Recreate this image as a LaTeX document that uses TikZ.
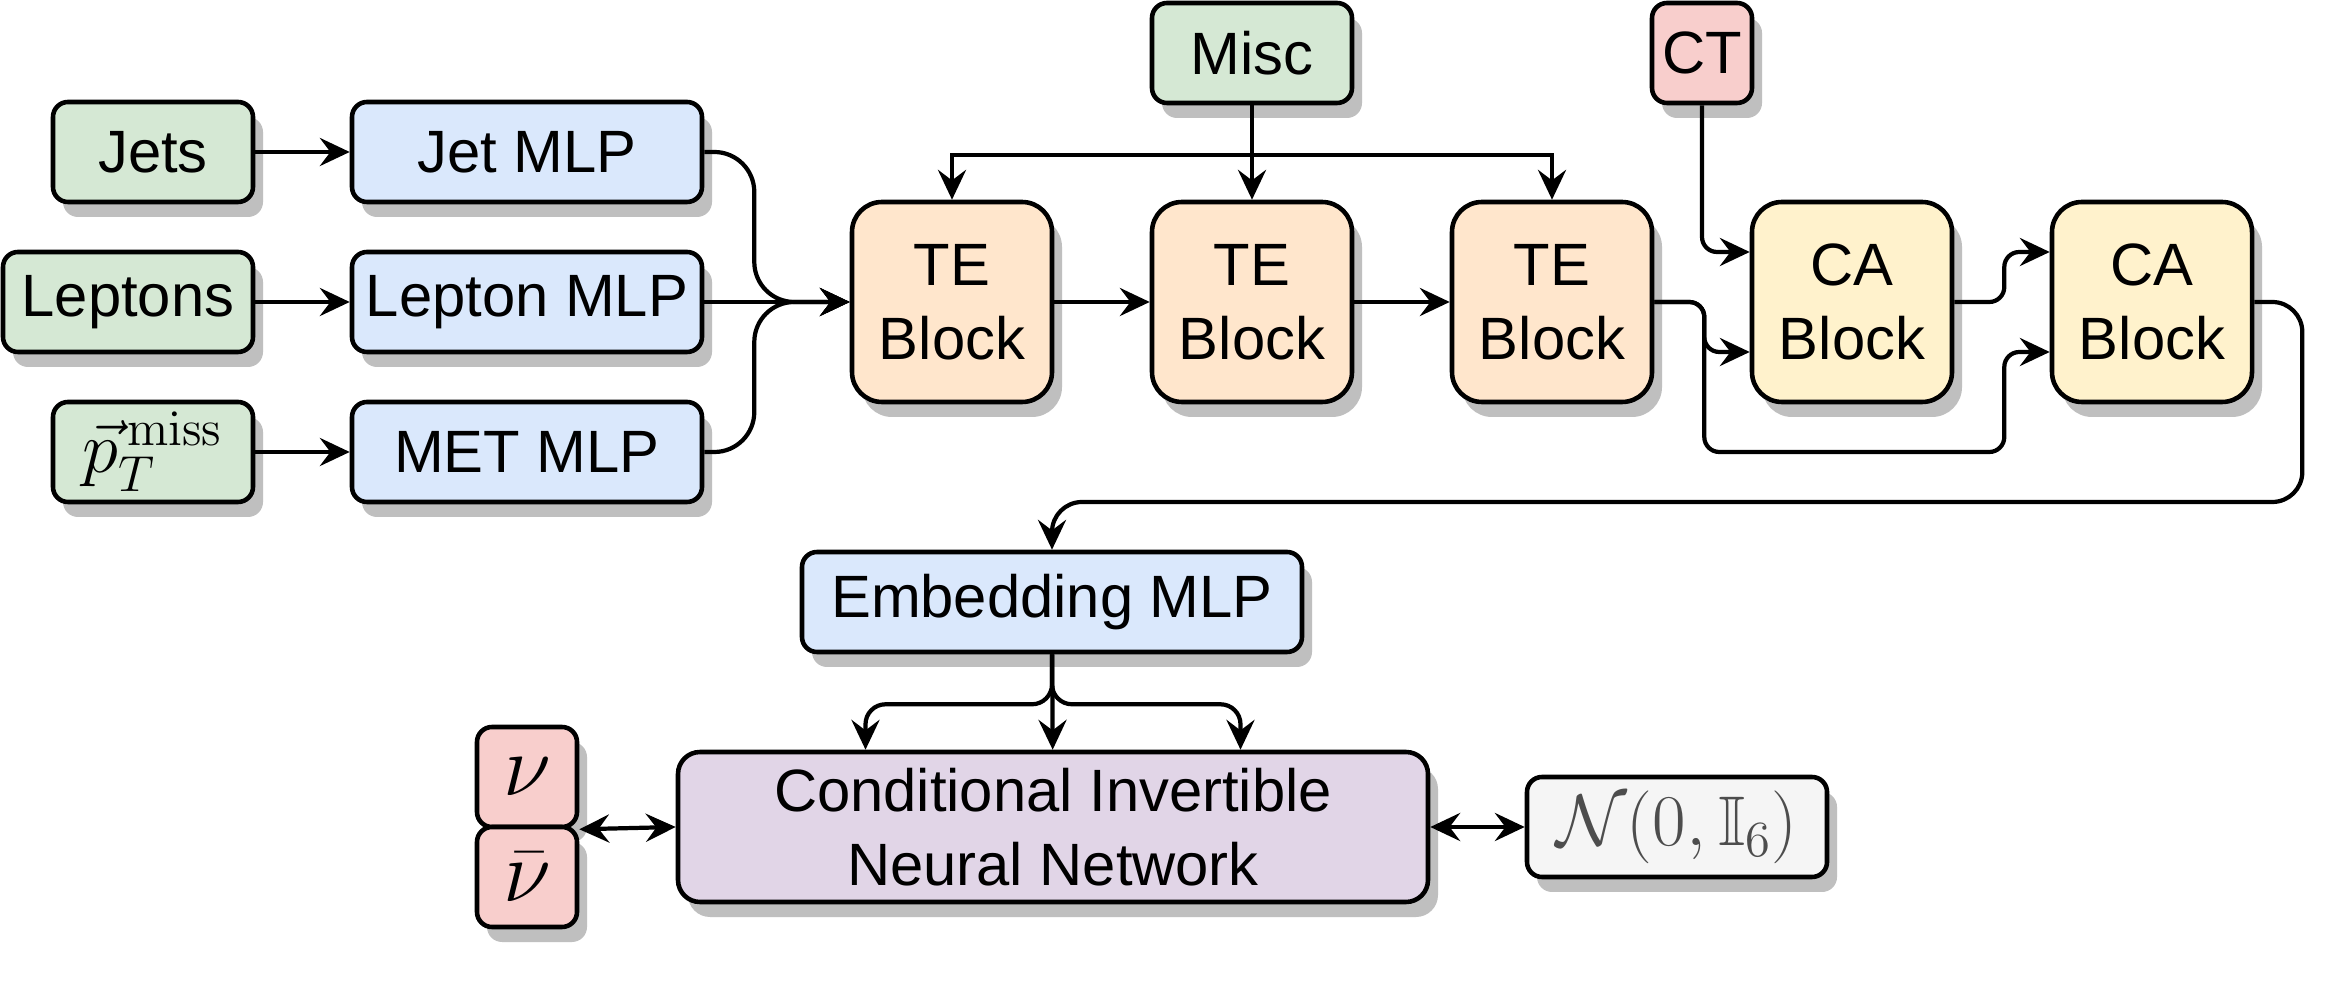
\documentclass[tikz,border=0pt]{standalone}
\usepackage{amsmath,amssymb,bm}
\usepackage[no-math]{fontspec}
\setmainfont{Liberation Sans}
\usepackage{tikz}
\usetikzlibrary{positioning, arrows.meta, shadows}
\definecolor{ingreen}{HTML}{D5E8D4}
\definecolor{mlpblue}{HTML}{DAE8FC}
\definecolor{teorange}{HTML}{FFE6CC}
\definecolor{cayellow}{HTML}{FFF2CC}
\definecolor{nured}{HTML}{F8CECC}
\definecolor{inpurple}{HTML}{E1D5E7}
\definecolor{latgray}{HTML}{F5F5F5}
\definecolor{lattext}{HTML}{4D4D4D}

\begin{document}
\begin{tikzpicture}[font=\fontsize{17}{21}\selectfont,
      blk/.style={draw, line width=1.3pt, rounded corners=0.15cm, minimum height=1cm, inner sep=0pt, align=center,
        drop shadow={shadow xshift=0.1cm, shadow yshift=-0.15cm, opacity=1, fill=black!25}},
      big/.style={blk, minimum width=2cm, minimum height=2cm, rounded corners=0.3cm},
      arr/.style={-{Stealth[length=8.5pt, width=8pt, inset=3pt]}, line width=1.2pt},
      darr/.style={{Stealth[length=8.5pt, width=8pt, inset=3pt]}-{Stealth[length=8.5pt, width=8pt, inset=3pt]}, line width=1.2pt}]
    \path[fill=white, use as bounding box] (0,0) rectangle (23.3,-10);
    \node[blk, fill=ingreen, minimum width=2cm] (jets) at (1.53,-1.52) {Jets};
    \node[blk, fill=ingreen, minimum width=2.5cm] (leptons) at (1.28,-3.02) {Leptons};
    \node[blk, fill=ingreen, minimum width=2cm, font=\fontsize{20}{22}\selectfont] (met) at (1.53,-4.52) {$\vec{p}_T^{\,\mathrm{miss}}$};
    \node[blk, fill=mlpblue, minimum width=3.5cm] (jetmlp) at (5.27,-1.52) {Jet MLP};
    \node[blk, fill=mlpblue, minimum width=3.5cm] (lepmlp) at (5.27,-3.02) {Lepton MLP};
    \node[blk, fill=mlpblue, minimum width=3.5cm] (metmlp) at (5.27,-4.52) {MET MLP};
    \node[big, fill=teorange] (te1) at (9.52,-3.02) {TE\\Block};
    \node[big, fill=teorange] (te2) at (12.52,-3.02) {TE\\Block};
    \node[big, fill=teorange] (te3) at (15.52,-3.02) {TE\\Block};
    \node[blk, fill=ingreen, minimum width=2cm] (misc) at (12.52,-0.53) {Misc};
    \node[blk, fill=nured, minimum width=1cm] (ct) at (17.02,-0.53) {CT};
    \node[big, fill=cayellow] (ca1) at (18.52,-3.02) {CA\\Block};
    \node[big, fill=cayellow] (ca2) at (21.52,-3.02) {CA\\Block};
    \node[blk, fill=mlpblue, minimum width=5cm] (emb) at (10.52,-6.02) {Embedding MLP};
    \node[blk, fill=inpurple, minimum width=7.5cm, minimum height=1.5cm, rounded corners=0.22cm] (cinn) at (10.53,-8.27) {Conditional Invertible\\Neural Network};
    \node[blk, fill=nured, minimum width=1cm, font=\fontsize{30}{32}\selectfont] (nu) at (5.27,-7.77) {$\nu$};
    \node[blk, fill=nured, minimum width=1cm, font=\fontsize{30}{32}\selectfont] (nubar) at (5.27,-8.77) {$\bar{\nu}$};
    \node[blk, fill=latgray, minimum width=3cm, text=lattext, font=\fontsize{20}{22}\selectfont] (gauss) at (16.77,-8.27) {$\mathcal{N}(0,\mathbb{I}_6)$};

    \draw[arr] (jets) -- (jetmlp);
    \draw[arr] (leptons) -- (lepmlp);
    \draw[arr] (met) -- (metmlp);
    \draw[arr, rounded corners=0.4cm] (jetmlp.east) -- ++(0.5,0) |- (te1.west);
    \draw[arr] (lepmlp) -- (te1);
    \draw[arr, rounded corners=0.4cm] (metmlp.east) -- ++(0.5,0) |- (te1.west);
    \draw[arr] (te1) -- (te2);
    \draw[arr] (te2) -- (te3);
    \draw[arr] (misc) -- (te2);
    \draw[arr] (misc.south) -- ++(0,-0.5) -| (te1.north);
    \draw[arr] (misc.south) -- ++(0,-0.5) -| (te3.north);
    \draw[arr, rounded corners=0.15cm] (ct.south) |- ([yshift=5mm]ca1.west);
    \draw[arr, rounded corners=0.15cm] (te3.east) -- ++(0.5,0) |- ([yshift=-5mm]ca1.west);
    \draw[arr, rounded corners=0.15cm] (te3.east) -- ++(0.5,0) |- ++(3,-1.5) |- ([yshift=-5mm]ca2.west);
    \draw[arr, rounded corners=0.15cm] (ca1.east) -- ++(0.5,0) |- ([yshift=5mm]ca2.west);
    \draw[arr, rounded corners=0.3cm] (ca2.east) -| ++(0.48,-2) -| (emb.north);
    \draw[arr] (emb) -- (cinn);
    \draw[arr, rounded corners=0.2cm] (emb.south) -- ++(0,-0.5) -| ([xshift=-1.875cm]cinn.north);
    \draw[arr, rounded corners=0.2cm] (emb.south) -- ++(0,-0.5) -| ([xshift=1.875cm]cinn.north);
    \draw[darr] (nu.south east) -- (cinn.west);
    \draw[darr] (cinn) -- (gauss);
  \end{tikzpicture}
\end{document}
